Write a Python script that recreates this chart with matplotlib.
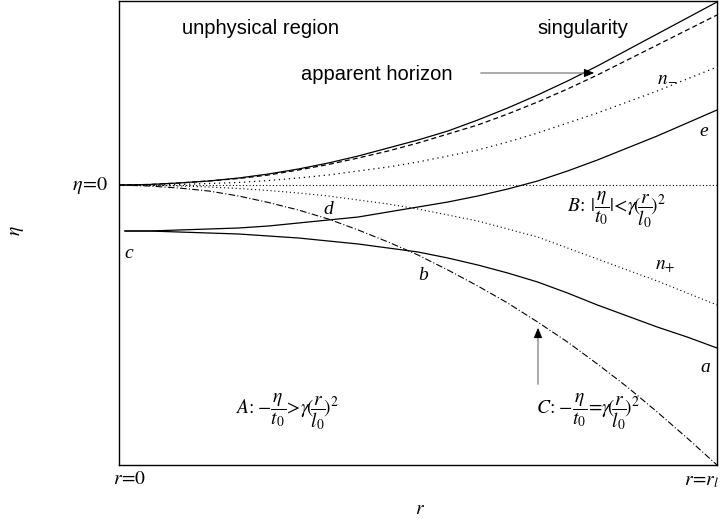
import matplotlib.pyplot as plt

plt.rcParams['mathtext.fontset'] = 'stix'
plt.rcParams['font.family'] = ['Liberation Sans', 'DejaVu Sans']

# r grid (fraction of r range) and curve values (eta, arbitrary units)
r = [0.0, 0.05, 0.1, 0.15, 0.2, 0.25, 0.3, 0.35, 0.4, 0.45, 0.5,
     0.55, 0.6, 0.65, 0.7, 0.75, 0.8, 0.85, 0.9, 0.95, 1.0]
singularity = [0, 0.5, 2, 4, 7, 11, 16, 22, 29, 37, 45,
               54, 65, 77, 90, 104, 119, 135, 151, 167, 183]
horizon = [0, 0.5, 2, 4, 6.5, 10, 15, 20.5, 27, 34, 42,
           51, 60, 71, 83, 96, 110, 125, 140, 155, 170]
n_minus = [0, 0, 0.5, 1.5, 2.5, 4.5, 7, 10, 14, 18, 23,
           29, 35, 43, 52, 62, 72, 83, 94, 106, 118]
n_plus = [0, 0, -1, -2, -3.5, -5.5, -8, -11, -15, -19, -24,
          -30, -36, -44, -52, -63, -74, -85, -96, -108, -120]
bound_C = [0, -1, -3, -6, -11, -17.5, -25, -34, -45, -57, -70,
           -85, -101, -118, -137, -157, -179, -202, -227, -253, -280]

r_c = [0.01, 0.05, 0.1, 0.15, 0.2, 0.25, 0.3, 0.35, 0.4, 0.45, 0.5,
       0.55, 0.6, 0.65, 0.7, 0.75, 0.8, 0.85, 0.9, 0.95, 1.0]
curve_e = [-46, -46, -45, -44, -43, -41, -38, -35, -32, -27, -22,
           -17, -11, -4, 4, 14, 25, 37, 49, 62, 75]
curve_a = [-46, -46, -47, -48, -49, -51, -53, -56, -59, -63, -67,
           -73, -80, -88, -97, -108, -120, -131, -142, -152, -163]

fig = plt.figure(figsize=(7.21, 5.23), dpi=100)
ax = fig.add_axes([119 / 721, 58 / 523, 598 / 721, 464 / 523])

lw = 0.9
ax.plot(r, singularity, color='black', lw=lw)
ax.plot(r, horizon, color='black', lw=lw, linestyle=(0, (4, 2.5)))
ax.plot(r, n_minus, color='black', lw=lw, linestyle=(0, (1, 3)))
ax.axhline(0, color='black', lw=0.8, linestyle=(0, (1, 2)))
ax.plot(r, n_plus, color='black', lw=0.8, linestyle=(0, (1, 2.5)))
ax.plot(r, bound_C, color='black', lw=0.8, linestyle=(0, (6, 2, 1, 2)))
ax.plot(r_c, curve_e, color='black', lw=lw)
ax.plot(r_c, curve_a, color='black', lw=lw)

ax.set_xlim(0, 1)
ax.set_ylim(-280, 184)
ax.set_xticks([])
ax.set_yticks([])
for s in ax.spines.values():
    s.set_linewidth(1.0)

def X(px):
    return (px - 119) / 598

def Y(py):
    return 185 - py

ser = dict(family=['Liberation Serif', 'DejaVu Serif'], style='italic', fontsize=14,
           ha='center', va='center')
ax.text(X(129), Y(254), 'c', **ser)
ax.text(X(328), Y(209), 'd', **ser)
ax.text(X(423), Y(276), 'b', **ser)
ax.text(X(704), Y(132), 'e', **ser)
ax.text(X(705), Y(367), 'a', **ser)
ax.text(X(667), Y(78), r'$n_{\!-}$', fontsize=14, ha='center', va='center')
ax.text(X(665), Y(267), r'$n_{+}$', fontsize=14, ha='center', va='center')

ax.text(X(617), Y(210), r'$B\!:\,|\dfrac{\eta}{t_0}|\!<\!\gamma\!(\!\dfrac{r}{l_0}\!)^2$',
        fontsize=14, ha='center', va='center')
ax.text(X(287), Y(412), r'$A\!:\!-\!\dfrac{\eta}{t_0}\!>\!\gamma\!(\!\dfrac{r}{l_0}\!)^2$',
        fontsize=14, ha='center', va='center')
ax.text(X(588), Y(412), r'$C\!:\!-\!\dfrac{\eta}{t_0}\!=\!\gamma\!(\!\dfrac{r}{l_0}\!)^2$',
        fontsize=14, ha='center', va='center')

ax.text(X(261), Y(29), 'unphysical region', fontsize=14.5, ha='center', va='center')
ax.text(X(583), Y(29), 'singularity', fontsize=14.5, ha='center', va='center')
ax.text(X(377), Y(74), 'apparent horizon', fontsize=14.5, ha='center', va='center')

# arrows: grey shaft, black head
ax.annotate('', xy=(X(592), Y(73)), xytext=(X(478), Y(73)),
            arrowprops=dict(arrowstyle='-', color='#888888', lw=1))
ax.annotate('', xy=(X(597), Y(73)), xytext=(X(585), Y(73)),
            arrowprops=dict(arrowstyle='-|>,head_length=0.6,head_width=0.25',
                            color='black', lw=0.8))
ax.annotate('', xy=(X(538), Y(330)), xytext=(X(538), Y(387)),
            arrowprops=dict(arrowstyle='-', color='#888888', lw=1))
ax.annotate('', xy=(X(538), Y(325)), xytext=(X(538), Y(337)),
            arrowprops=dict(arrowstyle='-|>,head_length=0.6,head_width=0.25',
                            color='black', lw=0.8))

# labels outside the frame
fig.text(108 / 721, 1 - 185 / 523, r'$\eta\!=\!0$', fontsize=14.5, ha='right', va='center')
fig.text(130 / 721, 1 - 479 / 523, r'$r\!=\!0$', fontsize=14, ha='center', va='center')
fig.text(719 / 721, 1 - 481 / 523, r'$r\!=\!r_l$', fontsize=14, ha='right', va='center')
fig.text(420 / 721, 1 - 510 / 523, r'$r$', fontsize=14, ha='center', va='center')
fig.text(17 / 721, 1 - 231 / 523, r'$\eta$', fontsize=14, ha='center', va='center',
         rotation=90)

fig.savefig('out.png', dpi=100)
